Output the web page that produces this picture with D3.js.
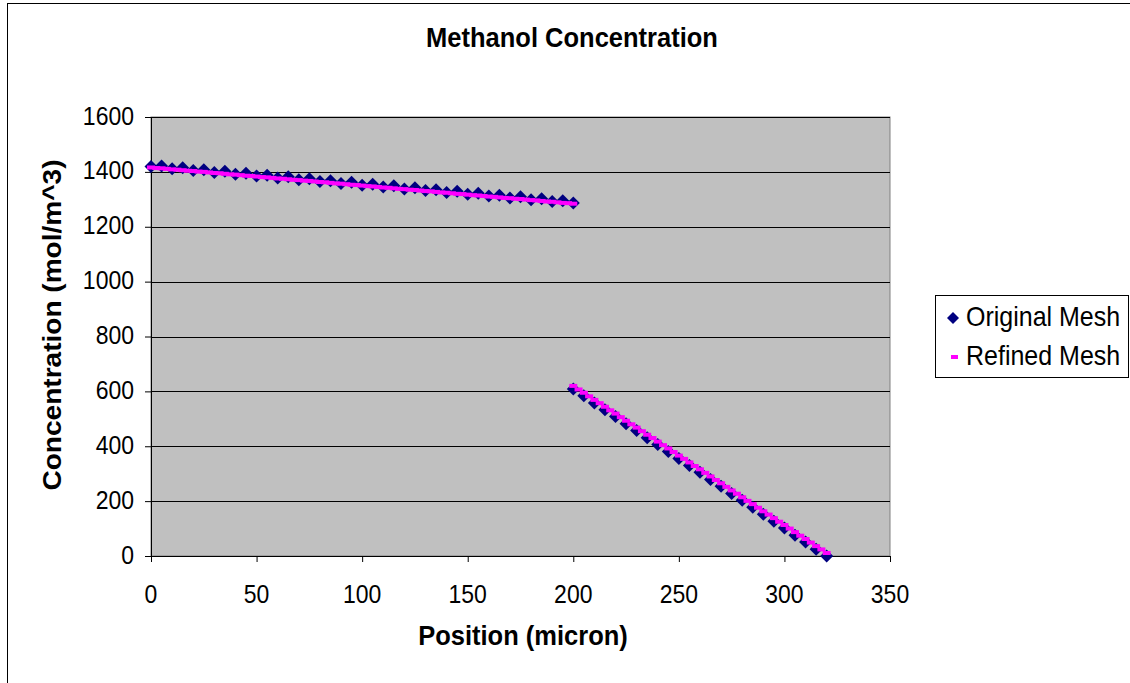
<!DOCTYPE html>
<html>
<head>
<meta charset="utf-8">
<script src="https://cdn.jsdelivr.net/npm/d3@7"></script>
<style>
  html, body { margin: 0; padding: 0; background: #fff; }
  svg { display: block; font-family: "Liberation Sans", Arial, sans-serif; }
</style>
</head>
<body>
<svg id="chart" width="1130" height="683"></svg>
<script>
// Methanol concentration along the cell, original vs refined mesh
const chartTitle = "Methanol Concentration";
const xTitle = "Position (micron)";
const yTitle = "Concentration (mol/m^3)";
const seriesNames = ["Original Mesh", "Refined Mesh"];

const xTicks = [0, 50, 100, 150, 200, 250, 300, 350];
const yTicks = [0, 200, 400, 600, 800, 1000, 1200, 1400, 1600];

// Original mesh: 5 micron spacing
const originalPos = [
  0, 5, 10, 15, 20, 25, 30, 35, 40, 45, 50, 55, 60, 65, 70, 75, 80, 85, 90, 95, 100,
  105, 110, 115, 120, 125, 130, 135, 140, 145, 150, 155, 160, 165, 170, 175, 180, 185, 190, 195, 200,
  200, 205, 210, 215, 220, 225, 230, 235, 240, 245, 250, 255, 260, 265, 270, 275, 280, 285, 290, 295,
  300, 305, 310, 315, 320
];
const originalConc = [
  1420, 1421, 1411, 1415, 1405, 1408, 1398, 1402, 1391, 1395, 1385, 1388, 1378, 1382, 1371, 1375, 1365, 1368, 1358, 1362, 1351,
  1355, 1345, 1349, 1338, 1342, 1332, 1335, 1325, 1329, 1318, 1322, 1312, 1315, 1305, 1309, 1298, 1302, 1292, 1295, 1287,
  609, 584, 558, 533, 508, 482, 457, 431, 406, 381, 355, 330, 305, 279, 254, 228, 203, 178, 152, 127,
  102, 76, 51, 25, 0
];

// Refined mesh: 2.5 micron spacing
const refinedPos = [
  0, 2.5, 5, 7.5, 10, 12.5, 15, 17.5, 20, 22.5, 25, 27.5, 30, 32.5, 35, 37.5, 40, 42.5, 45, 47.5,
  50, 52.5, 55, 57.5, 60, 62.5, 65, 67.5, 70, 72.5, 75, 77.5, 80, 82.5, 85, 87.5, 90, 92.5, 95, 97.5,
  100, 102.5, 105, 107.5, 110, 112.5, 115, 117.5, 120, 122.5, 125, 127.5, 130, 132.5, 135, 137.5, 140, 142.5, 145, 147.5,
  150, 152.5, 155, 157.5, 160, 162.5, 165, 167.5, 170, 172.5, 175, 177.5, 180, 182.5, 185, 187.5, 190, 192.5, 195, 197.5, 200,
  200, 202.5, 205, 207.5, 210, 212.5, 215, 217.5, 220, 222.5, 225, 227.5, 230, 232.5, 235, 237.5, 240, 242.5, 245, 247.5,
  250, 252.5, 255, 257.5, 260, 262.5, 265, 267.5, 270, 272.5, 275, 277.5, 280, 282.5, 285, 287.5, 290, 292.5, 295, 297.5,
  300, 302.5, 305, 307.5, 310, 312.5, 315, 317.5, 320
];
const refinedConc = [
  1416, 1414, 1413, 1411, 1409, 1408, 1406, 1404, 1403, 1401, 1400, 1398, 1396, 1395, 1393, 1391, 1390, 1388, 1386, 1385,
  1383, 1381, 1380, 1378, 1376, 1375, 1373, 1371, 1370, 1368, 1367, 1365, 1363, 1362, 1360, 1358, 1357, 1355, 1353, 1352,
  1350, 1348, 1347, 1345, 1343, 1342, 1340, 1338, 1337, 1335, 1334, 1332, 1330, 1329, 1327, 1325, 1324, 1322, 1320, 1319,
  1317, 1315, 1314, 1312, 1310, 1309, 1307, 1305, 1304, 1302, 1301, 1299, 1297, 1296, 1294, 1292, 1291, 1289, 1287, 1286, 1284,
  620, 607, 595, 582, 569, 557, 544, 531, 519, 506, 493, 480, 468, 455, 442, 430, 417, 404, 392, 379,
  366, 354, 341, 328, 316, 303, 290, 277, 265, 252, 239, 227, 214, 201, 189, 176, 163, 151, 138, 125,
  113, 100, 87, 74, 62, 49, 36, 24, 11
];

const colors = { original: "#000080", refined: "#FF00FF", plotBg: "#C0C0C0" };
const textStretch = 1.1; // glyphs are drawn slightly taller than wide

const svg = d3.select("#chart");
const plot = { left: 151, top: 117, right: 890, bottom: 556 };

const x = d3.scaleLinear().domain([0, 350]).range([plot.left, plot.right]);
const y = d3.scaleLinear().domain([0, 1600]).range([plot.bottom, plot.top]);

// text helper: anchored at (tx, ty), stretched vertically
function label(parent, tx, ty, str, opts = {}) {
  const g = parent.append("g")
    .attr("transform", `translate(${tx},${ty}) scale(1,${textStretch})${opts.rotate ? ` rotate(${opts.rotate})` : ""}`);
  return g.append("text")
    .attr("text-anchor", opts.anchor || "start")
    .attr("font-size", opts.size || 23)
    .attr("font-weight", opts.weight || "normal")
    .attr("fill", "#000")
    .text(str);
}

// outer chart frame
svg.append("rect")
  .attr("x", 7.5).attr("y", 3.5).attr("width", 1140).attr("height", 700)
  .attr("fill", "#fff").attr("stroke", "#000").attr("stroke-width", 1);

// plot area
svg.append("rect")
  .attr("x", plot.left).attr("y", plot.top)
  .attr("width", plot.right - plot.left).attr("height", plot.bottom - plot.top)
  .attr("fill", colors.plotBg).attr("stroke", "#808080").attr("stroke-width", 1);

// horizontal gridlines
svg.append("g").selectAll("line")
  .data(yTicks.filter(d => d > 0))
  .join("line")
  .attr("x1", plot.left).attr("x2", plot.right)
  .attr("y1", d => Math.round(y(d)) + 0.5).attr("y2", d => Math.round(y(d)) + 0.5)
  .attr("stroke", "#000").attr("stroke-width", 1);

// axes (lines and tick marks; labels are drawn separately)
const xAxis = svg.append("g")
  .attr("transform", `translate(0,${plot.bottom})`)
  .call(d3.axisBottom(x).tickValues(xTicks).tickSize(6).tickFormat(""));
const yAxis = svg.append("g")
  .attr("transform", `translate(${plot.left},0)`)
  .call(d3.axisLeft(y).tickValues(yTicks).tickSize(6).tickFormat(""));
[xAxis, yAxis].forEach(g => {
  g.select(".domain").attr("stroke", "#000");
  g.selectAll(".tick line").attr("stroke", "#000");
});

const tickLabels = svg.append("g");
xTicks.forEach(d => label(tickLabels, x(d), 603, d3.format("d")(d), { anchor: "middle" }));
yTicks.forEach(d => label(tickLabels, 134, y(d) + 7.5, d3.format("d")(d), { anchor: "end" }));

// marker shapes
const diamond = r => `M0,${-r}L${r},0L0,${r}L${-r},0Z`;

const originalData = originalPos.map((p, i) => ({ p, c: originalConc[i] }));
const refinedData = refinedPos.map((p, i) => ({ p, c: refinedConc[i] }));

svg.append("g").selectAll("path")
  .data(originalData)
  .join("path")
  .attr("d", diamond(6.5))
  .attr("transform", d => `translate(${x(d.p)},${y(d.c)})`)
  .attr("fill", colors.original);

svg.append("g").selectAll("rect")
  .data(refinedData)
  .join("rect")
  .attr("x", d => x(d.p) - 4).attr("y", d => y(d.c) - 2)
  .attr("width", 8).attr("height", 4)
  .attr("fill", colors.refined);

// titles
label(svg, 572, 47, chartTitle, { anchor: "middle", size: 25.5, weight: "bold" });
label(svg, 523, 645, xTitle, { anchor: "middle", size: 25.5, weight: "bold" });
label(svg, 61, 325, yTitle, { anchor: "middle", size: 25.5, weight: "bold", rotate: -90 });

// legend
const legend = svg.append("g");
legend.append("rect")
  .attr("x", 935.5).attr("y", 295.5).attr("width", 193).attr("height", 82)
  .attr("fill", "#fff").attr("stroke", "#000");
legend.append("path").attr("d", diamond(6))
  .attr("transform", "translate(953,318)").attr("fill", colors.original);
legend.append("rect").attr("x", 951).attr("y", 355).attr("width", 7).attr("height", 4)
  .attr("fill", colors.refined);
label(legend, 966, 326, seriesNames[0], { size: 25 });
label(legend, 966, 365, seriesNames[1], { size: 25 });
</script>
</body>
</html>
